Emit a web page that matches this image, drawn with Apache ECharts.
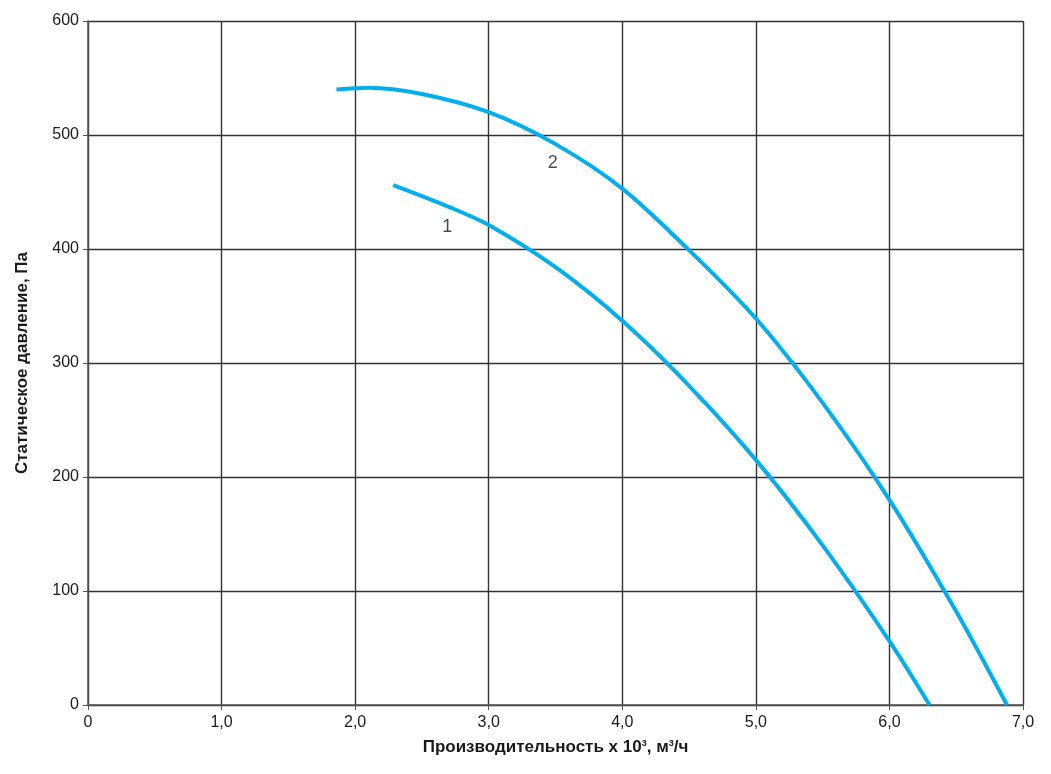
<!DOCTYPE html>
<html>
<head>
<meta charset="utf-8">
<script src="https://cdn.jsdelivr.net/npm/echarts@6/dist/echarts.min.js"></script>
<style>
  html, body { margin: 0; padding: 0; background: #fff; }
  #chart { width: 1051px; height: 774px; }
</style>
</head>
<body>
<div id="chart"></div>
<script>
// кривые вентилятора: [производительность x10^3 м3/ч, давление Па]
const curve1 = [
    [2.285, 456], [2.7, 437], [3.0, 421], [3.5, 384], [4.0, 337],
    [4.5, 280], [5.0, 215], [5.5, 140], [6.0, 56], [6.30, 0]
];
const curve2 = [
    [1.86, 540], [2.1, 541.5], [2.5, 536], [3.0, 520], [3.5, 492], [4.0, 453],
    [4.5, 399], [5.0, 339], [5.5, 265], [6.0, 180], [6.5, 82], [6.88, 0]
];
// подписи кривых
const curveLabels = [
    [2.69, 419, '1'],
    [3.48, 475, '2']
];
const xTicks = [0, 1, 2, 3, 4, 5, 6, 7];
const yTicks = [0, 100, 200, 300, 400, 500, 600];

const chart = echarts.init(document.getElementById('chart'));
const font = "'Liberation Sans', Arial, sans-serif";
const gridLine = { lineStyle: { color: '#333', width: 1.4 } };

chart.setOption({
    animation: false,
    grid: { left: 88, right: 28, top: 21, bottom: 69 },
    xAxis: {
        type: 'value',
        min: xTicks[0],
        max: xTicks[xTicks.length - 1],
        interval: 1,
        axisLine: { lineStyle: { color: '#555', width: 1.5 } },
        axisTick: { show: true, length: 5, lineStyle: { color: '#555' } },
        splitLine: Object.assign({ show: true }, gridLine),
        axisLabel: {
            color: '#1a1a1a', fontSize: 16, fontFamily: font, margin: 10,
            formatter: (v) => v === 0 ? '0' : v.toFixed(1).replace('.', ',')
        },
        name: 'Производительность х 10{s|3}, м{s|3}/ч',
        nameLocation: 'middle',
        nameGap: 34,
        nameTextStyle: {
            color: '#1a1a1a', fontSize: 17, fontWeight: 'bold', fontFamily: font,
            rich: {
                s: { fontSize: 9, fontWeight: 'bold', verticalAlign: 'top', padding: [0, 0, 8, 0] }
            }
        }
    },
    yAxis: {
        type: 'value',
        min: yTicks[0],
        max: yTicks[yTicks.length - 1],
        interval: 100,
        axisLine: { show: true, lineStyle: { color: '#555', width: 1.5 } },
        axisTick: { show: true, length: 5, lineStyle: { color: '#555' } },
        splitLine: Object.assign({ show: true }, gridLine),
        axisLabel: { color: '#1a1a1a', fontSize: 16, fontFamily: font, margin: 9 },
        name: 'Статическое давление, Па',
        nameLocation: 'middle',
        nameGap: 57,
        nameTextStyle: { color: '#1a1a1a', fontSize: 17, fontWeight: 'bold', fontFamily: font }
    },
    series: [
        {
            type: 'line', data: curve1, smooth: 0.3, showSymbol: false,
            lineStyle: { color: '#00aeef', width: 4 }
        },
        {
            type: 'line', data: curve2, smooth: 0.3, showSymbol: false,
            lineStyle: { color: '#00aeef', width: 4 }
        },
        {
            type: 'scatter', data: curveLabels, symbolSize: 0,
            label: {
                show: true, position: 'inside', formatter: (p) => p.data[2],
                color: '#1a1a1a', fontSize: 18, fontFamily: font
            }
        }
    ]
});
</script>
</body>
</html>
